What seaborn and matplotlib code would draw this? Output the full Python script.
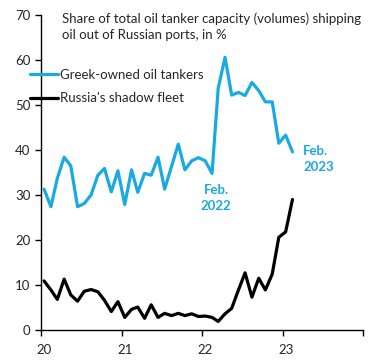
import pandas as pd
import matplotlib.pyplot as plt
import matplotlib.dates as mdates
import seaborn as sns

months = pd.date_range("2020-01-01", "2023-02-01", freq="MS") + pd.Timedelta(days=14)

greek = [31.3, 27.4, 33.7, 38.4, 36.5, 27.4, 28.1, 30.0, 34.4, 35.9, 30.7, 35.4,
         27.9, 35.6, 30.6, 34.8, 34.4, 38.4, 31.3, 36.3, 41.3, 35.6, 37.6, 38.3,
         37.6, 34.8, 53.7, 60.6, 52.2, 52.8, 52.1, 55.0, 53.2, 50.7, 50.7, 41.5,
         43.3, 39.6]
shadow = [10.9, 8.9, 6.8, 11.3, 7.8, 6.4, 8.6, 9.0, 8.5, 6.6, 4.1, 6.3,
          2.8, 4.6, 5.1, 2.6, 5.6, 2.8, 3.7, 3.2, 3.7, 3.2, 3.6, 3.0,
          3.1, 2.8, 1.9, 3.6, 4.8, 8.9, 12.7, 7.3, 11.5, 8.9, 12.4, 20.6,
          21.8, 29.0]

series_names = ["Greek-owned oil tankers", "Russia's shadow fleet"]
blue = "#1AAAE2"

df = pd.DataFrame({"date": list(months) * 2,
                   "value": greek + shadow,
                   "series": [series_names[0]] * len(months) + [series_names[1]] * len(months)})

sns.set_style("ticks")
plt.rcParams["font.family"] = ["Lato", "DejaVu Sans"]

fig = plt.figure(figsize=(3.84, 3.61), dpi=100)
ax = fig.add_axes([41 / 384, 1 - 330 / 361, 322 / 384, 315 / 361])

sns.lineplot(data=df, x="date", y="value", hue="series", palette=[blue, "black"],
             linewidth=2.3, ax=ax)

ax.set_xlim(pd.Timestamp("2020-01-01"), pd.Timestamp("2024-01-01"))
ax.set_ylim(0, 70)
ax.set_yticks(range(0, 71, 10))
# year ticks on Jan 1, labels centred on the January point
ax.set_xticks(pd.date_range("2020-01-01", "2024-01-01", freq="YS"))
ax.xaxis.set_major_formatter(plt.NullFormatter())
ax.set_xticks(pd.to_datetime(["2020-01-15", "2021-01-15", "2022-01-15", "2023-01-15"]), minor=True)
ax.xaxis.set_minor_formatter(mdates.DateFormatter("%y"))
ax.tick_params(axis="both", which="major", length=4, width=1, color="black", labelsize=9.5)
ax.tick_params(axis="x", which="minor", length=0, pad=10, labelsize=9.5)
for s in ["left", "bottom"]:
    ax.spines[s].set_color("black")
    ax.spines[s].set_linewidth(1)
sns.despine(ax=ax)
ax.set_xlabel("")
ax.set_ylabel("")

fig.text(62 / 384, 1 - 12 / 361,
         "Share of total oil tanker capacity (volumes) shipping\noil out of Russian ports, in %",
         ha="left", va="top", fontsize=9.5, linespacing=1.4)

ax.legend(loc="upper left", bbox_to_anchor=(30 / 384, 1 - 69 / 361),
          bbox_transform=fig.transFigure, frameon=False, fontsize=9.5,
          handlelength=2.1, handletextpad=0.15, labelspacing=0.85,
          borderpad=0, borderaxespad=0)

ax.text(pd.Timestamp("2022-03-05"), 29.3, "Feb.\n2022", color=blue, fontsize=9.5,
        fontweight="bold", ha="center", va="center", linespacing=1.4)
ax.text(pd.Timestamp("2023-04-04"), 38.0, "Feb.\n2023", color=blue, fontsize=9.5,
        fontweight="bold", ha="left", va="center", linespacing=1.4)

plt.savefig("out.png", dpi=100)
